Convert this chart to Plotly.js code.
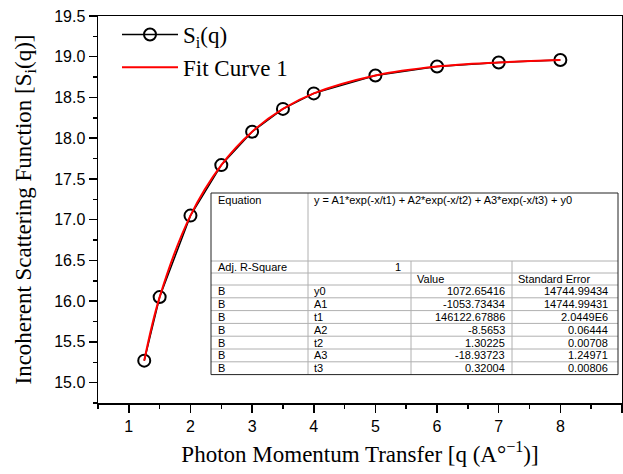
<!DOCTYPE html>
<html>
<head>
<meta charset="utf-8">
<script src="https://cdn.plot.ly/plotly-3.0.1.min.js"></script>
<style>html,body{margin:0;padding:0;background:#fff;}#chart{width:623px;height:474px;}</style>
</head>
<body>
<div id="chart"></div>
<script>
// ---- data ----
const qValues = [1.25, 1.5, 2, 2.5, 3, 3.5, 4, 5, 6, 7, 8];
const siValues = [15.27, 16.05, 17.05, 17.67, 18.08, 18.36, 18.55, 18.77, 18.88, 18.93, 18.96];
const fitQ = [1.25, 1.5, 2, 2.5, 3, 3.5, 4, 5, 6, 7, 8];
const fitValues = [15.27, 16.05, 17.05, 17.67, 18.08, 18.36, 18.55, 18.77, 18.88, 18.93, 18.96];
const seriesNames = ['S<sub>i</sub>(q)', 'Fit Curve 1'];

// fit report table
const equationText = 'y = A1*exp(-x/t1) + A2*exp(-x/t2) + A3*exp(-x/t3) + y0';
const adjRLabel = 'Adj. R-Square';
const adjRValue = '1';
const headerLabels = ['Value', 'Standard Error'];
const paramDataset = ['B', 'B', 'B', 'B', 'B', 'B', 'B'];
const paramNames = ['y0', 'A1', 't1', 'A2', 't2', 'A3', 't3'];
const paramValues = ['1072.65416', '-1053.73434', '146122.67886', '-8.5653', '1.30225', '-18.93723', '0.32004'];
const paramErrors = ['14744.99434', '14744.99431', '2.0449E6', '0.06444', '0.00708', '1.24971', '0.00806'];

// ---- layout geometry (pixels) ----
const W = 623, H = 474;
const M = {l: 98, r: 1, t: 16, b: 71};
const plotW = W - M.l - M.r, plotH = H - M.t - M.b;
const px = x => (x - M.l) / plotW;
const py = y => (H - M.b - y) / plotH;

const serif = 'Liberation Serif';
const sans = 'Liberation Sans';

const traces = [
  {
    x: qValues, y: siValues, name: seriesNames[0], type: 'scatter', mode: 'lines+markers',
    line: {color: '#000', width: 1.5},
    marker: {symbol: 'circle-open', size: 12, color: '#000', line: {width: 2, color: '#000'}}
  },
  {
    x: fitQ, y: fitValues, name: seriesNames[1], type: 'scatter', mode: 'lines',
    line: {color: '#ff0000', width: 2, shape: 'spline'}
  }
];

// table geometry
const tL = 211, tC1 = 308, tC2 = 411, tC3 = 512, tR = 618;
const tTop = 193, tEq = 261, tAdj = 273, tHead = 285, rowH = 12.8;
const nRows = paramNames.length;
const tBot = tHead + rowH * nRows;

const shapes = [];
const inner = {color: '#b0b0b0', width: 1};
function hline(y, x0, x1, ln) { shapes.push({type: 'line', xref: 'paper', yref: 'paper', x0: px(x0), x1: px(x1), y0: py(y), y1: py(y), line: ln, layer: 'above'}); }
function vline(x, y0, y1, ln) { shapes.push({type: 'line', xref: 'paper', yref: 'paper', x0: px(x), x1: px(x), y0: py(y0), y1: py(y1), line: ln, layer: 'above'}); }
shapes.push({type: 'rect', xref: 'paper', yref: 'paper', x0: px(tL), x1: px(tR), y0: py(tBot), y1: py(tTop), fillcolor: '#fff', line: {width: 0}, layer: 'above'});
hline(tEq, tL, tR, inner);
hline(tAdj, tL, tR, inner);
hline(tHead, tL, tR, inner);
for (let i = 1; i < nRows; i++) hline(tHead + rowH * i, tL, tR, inner);
vline(tC1, tTop, tBot, inner);
vline(tC2, tEq, tBot, inner);
vline(tC3, tEq, tBot, inner);
shapes.push({type: 'rect', xref: 'paper', yref: 'paper', x0: px(tL), x1: px(tR), y0: py(tBot), y1: py(tTop), line: {color: '#222', width: 1}, layer: 'above'});

const annotations = [];
function cell(text, x, y, anchor) {
  annotations.push({text: text, xref: 'paper', yref: 'paper', x: px(x), y: py(y), xanchor: anchor, yanchor: 'middle',
    showarrow: false, font: {family: sans, size: 11, color: '#000'}});
}
cell('Equation', tL + 5, tTop + 7, 'left');
cell(equationText, tC1 + 4, tTop + 7, 'left');
cell(adjRLabel, tL + 5, (tEq + tAdj) / 2, 'left');
cell(adjRValue, tC2 - 8, (tEq + tAdj) / 2, 'right');
cell(headerLabels[0], tC2 + 4, (tAdj + tHead) / 2, 'left');
cell(headerLabels[1], tC3 + 4, (tAdj + tHead) / 2, 'left');
for (let i = 0; i < nRows; i++) {
  const yc = tHead + rowH * (i + 0.5);
  cell(paramDataset[i], tL + 5, yc, 'left');
  cell(paramNames[i], tC1 + 4, yc, 'left');
  cell(paramValues[i], tC3 - 5, yc, 'right');
  cell(paramErrors[i], tR - 8, yc, 'right');
}

const layout = {
  width: W, height: H,
  margin: M,
  font: {family: sans},
  paper_bgcolor: '#fff', plot_bgcolor: '#fff',
  showlegend: true,
  legend: {x: px(117), y: py(13), xanchor: 'left', yanchor: 'top', bgcolor: 'rgba(0,0,0,0)',
    font: {family: serif, size: 23, color: '#000'}, itemwidth: 56, tracegroupgap: 0},
  xaxis: {
    range: [0.5, 9], tick0: 0, dtick: 1, ticks: 'outside', ticklen: 8, tickwidth: 1.5, tickcolor: '#000',
    showline: true, linecolor: '#000', linewidth: 1.5, mirror: true, showgrid: false, zeroline: false,
    minor: {dtick: 0.5, ticks: 'outside', ticklen: 4, tickwidth: 1.5, tickcolor: '#000'},
    tickfont: {family: sans, size: 16, color: '#000'},
    title: {text: 'Photon Momentum Transfer [q (A°<sup>−1</sup>)]', font: {family: serif, size: 23, color: '#000'}, standoff: 12}
  },
  yaxis: {
    range: [14.75, 19.5], tick0: 15, dtick: 0.5, tickformat: '.1f', ticks: 'outside', ticklen: 8, tickwidth: 1.5, tickcolor: '#000',
    showline: true, linecolor: '#000', linewidth: 1.5, mirror: true, showgrid: false, zeroline: false,
    minor: {dtick: 0.25, ticks: 'outside', ticklen: 4, tickwidth: 1.5, tickcolor: '#000'},
    tickfont: {family: sans, size: 16, color: '#000'},
    title: {text: 'Incoherent Scattering Function [S<sub>i</sub>(q)]', font: {family: serif, size: 23, color: '#000'}, standoff: 16}
  },
  shapes: shapes,
  annotations: annotations
};

Plotly.newPlot('chart', traces, layout, {displayModeBar: false, staticPlot: true});
</script>
</body>
</html>
